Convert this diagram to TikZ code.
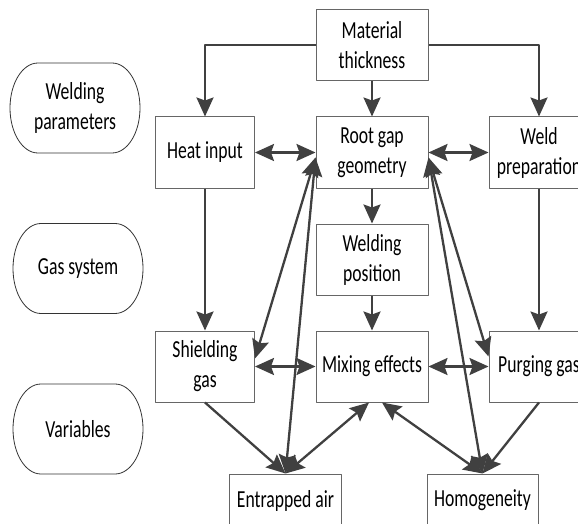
\documentclass[tikz,border=0pt]{standalone}
\usepackage{fontspec}
\setmainfont{Carlito}[FakeStretch=0.72]
\usetikzlibrary{arrows.meta}
\begin{document}
\begin{tikzpicture}[x=1pt,y=1pt,>={Stealth[length=19pt,width=17pt,inset=3pt]},
    line join=round, font=\fontsize{24.5}{30}\selectfont,
    hop/.style={draw=black!60,line width=1pt,minimum width=112pt,minimum height=71pt,inner sep=0pt,align=center},
    mui/.style={draw=black!75,line width=2.3pt}]
  \def\W{578} \def\H{524} % khung hinh
  \def\rx{28} \def\ry{45} % ban kinh vien
  \useasboundingbox (0,0) rectangle (\W,-\H);
  \clip (0,0) rectangle (\W,-\H);
  % cac hop
  \node[hop] (mat) at (372,-45) {Material\\thickness};
  \node[hop,minimum width=99pt] (heat) at (205,-152.5) {Heat input};
  \node[hop] (root) at (372,-152.5) {Root gap\\geometry};
  \node[hop,minimum width=100pt] (weld) at (539,-152.5) {Weld\\preparation};
  \node[hop] (pos) at (372,-259.5) {Welding\\position};
  \node[hop,minimum width=99pt] (shield) at (205,-366.5) {Shielding\\gas};
  \node[hop] (mix) at (372,-366.5) {Mixing effects};
  \node[hop,minimum width=100pt] (purge) at (539,-366.5) {Purging gas};
  \node[hop,minimum height=53pt] (air) at (285.5,-500.5) {Entrapped air};
  \node[hop,minimum width=111pt,minimum height=53pt] (homo) at (482.5,-500.5) {Homogeneity};
  % cac nhan ben trai
  \foreach \n/\x/\y/\txt in {par/75/108/{Welding\\parameters}, gas/78/268.5/{Gas system}, var/78/429/Variables}{
    \node[align=center] (\n) at (\x,-\y) {\txt};
    \draw[black!80,line width=0.8pt] (\x-37,-\y+\ry) -- (\x+37,-\y+\ry)
      arc[start angle=90,end angle=-90,x radius=\rx,y radius=\ry] -- (\x-37,-\y-\ry)
      arc[start angle=270,end angle=90,x radius=\rx,y radius=\ry] -- cycle;
  }
  % cac mui ten
  \draw[mui,->] (mat.west) -| (heat.north);
  \draw[mui,->] (mat.east) -| (weld.north);
  \draw[mui,->] (mat) -- (root);
  \draw[mui,<->] (heat) -- (root);
  \draw[mui,<->] (root) -- (weld);
  \draw[mui,->] (root) -- (pos);
  \draw[mui,->] (pos) -- (mix);
  \draw[mui,->] (heat) -- (shield);
  \draw[mui,->] (weld) -- (purge);
  \draw[mui,<->] (shield) -- (mix);
  \draw[mui,<->] (mix) -- (purge);
  \draw[mui,->] (shield.south) -- (air.north);
  \draw[mui,->] (purge.south) -- (homo.north);
  \draw[mui,<->] (air.north) -- ([xshift=-3pt]mix.south);
  \draw[mui,<->] (homo.north) -- ([xshift=10pt]mix.south);
  \draw[mui,<->] ([yshift=-5pt]root.west) -- ([yshift=8pt]shield.east);
  \draw[mui,<->] ([yshift=-5pt]root.west) -- (air.north);
  \draw[mui,<->] ([yshift=-5pt]root.east) -- ([yshift=10pt]purge.west);
  \draw[mui,<->] ([yshift=-5pt]root.east) -- (homo.north);
\end{tikzpicture}
\end{document}
